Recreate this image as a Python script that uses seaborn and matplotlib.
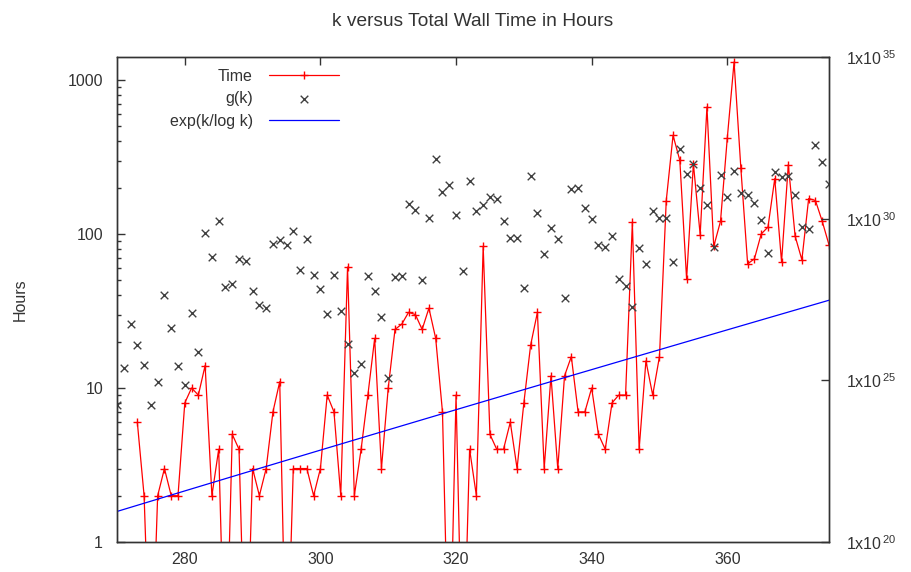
import numpy as np
import pandas as pd
import matplotlib
matplotlib.use("Agg")
import matplotlib.pyplot as plt
import seaborn as sns
from matplotlib.ticker import FixedLocator, LogLocator, NullFormatter, NullLocator

# k values (x axis)
k_values = list(range(270, 376))

# wall time in hours, k = 273 .. 375 (points below 1 drop off the bottom of the axis)
time_k = list(range(273, 376))
time_hours = [
    6, 2, 0.1, 2, 3, 2, 2, 8, 10, 9,            # 273-282
    14, 2, 4, 0.1, 5, 4, 0.1, 3, 2, 3,          # 283-292
    7, 11, 0.1, 3, 3, 3, 2, 3, 9, 7,            # 293-302
    2, 61, 2, 4, 9, 21, 3, 10, 24, 26,          # 303-312
    31, 30, 24, 33, 21, 7, 0.1, 9, 0.1, 4,      # 313-322
    2, 83, 5, 4, 4, 6, 3, 8, 19, 31,            # 323-332
    3, 12, 3, 12, 16, 7, 7, 10, 5, 4,           # 333-342
    8, 9, 9, 119, 4, 15, 9, 16, 165, 437,       # 343-352
    301, 51, 286, 99, 668, 83, 121, 420, 1309, 268,  # 353-362
    64, 69, 100, 111, 229, 66, 282, 97, 68, 170,     # 363-372
    165, 121, 85,                                    # 373-375
]

# g(k), read as log10 values on the right axis, k = 270 .. 375
g_log10 = [
    24.23, 25.38, 26.75, 26.08, 25.46, 24.25, 24.95, 27.65, 26.62, 25.44,  # 270-279
    24.87, 27.08, 25.88, 29.57, 28.81, 29.92, 27.89, 27.97, 28.74, 28.69,  # 280-289
    27.75, 27.34, 27.24, 29.23, 29.33, 29.18, 29.62, 28.40, 29.38, 28.27,  # 290-299
    27.84, 27.06, 28.25, 27.13, 26.13, 25.24, 25.52, 28.23, 27.75, 26.96,  # 300-309
    25.07, 28.20, 28.23, 30.46, 30.28, 28.11, 30.02, 31.84, 30.82, 31.05,  # 310-319
    30.12, 28.38, 31.18, 30.23, 30.43, 30.67, 30.62, 29.92, 29.41, 29.41,  # 320-329
    27.87, 31.32, 30.19, 28.92, 29.72, 29.36, 27.55, 30.93, 30.95, 30.33,  # 330-339
    29.98, 29.18, 29.12, 29.46, 28.14, 27.91, 27.27, 29.09, 28.61, 30.23,  # 340-349
    30.03, 30.03, 28.66, 32.16, 31.39, 31.68, 30.95, 30.41, 29.12, 31.36,  # 350-359
    30.67, 31.46, 30.80, 30.72, 30.49, 29.95, 28.95, 31.44, 31.29, 31.31,  # 360-369
    30.74, 29.74, 29.69, 32.27, 31.75, 31.08,                              # 370-375
]

left_ticks = [1, 10, 100, 1000]
left_labels = ["1", "10", "100", "1000"]
right_ticks = [1e20, 1e25, 1e30, 1e35]
right_labels = [r"1x10$^{\,20}$", r"1x10$^{\,25}$", r"1x10$^{\,30}$", r"1x10$^{\,35}$"]
x_ticks = [280, 300, 320, 340, 360]

time_df = pd.DataFrame({"k": time_k, "hours": time_hours})
g_df = pd.DataFrame({"k": k_values, "g": 10.0 ** np.array(g_log10)})
k_arr = np.array(k_values, dtype=float)
exp_df = pd.DataFrame({"k": k_values, "bound": np.exp(k_arr / np.log(k_arr))})

sns.set_style("white")
plt.rcParams["font.family"] = ["Liberation Sans", "DejaVu Sans"]
plt.rcParams["mathtext.default"] = "regular"
plt.rcParams["font.size"] = 11.5
text_col = "#333333"

fig = plt.figure(figsize=(9.11, 5.72), dpi=100)
ax = fig.add_axes([0.1284, 0.0524, 0.910 - 0.1284, 0.9003 - 0.0524])
ax2 = ax.twinx()

sns.lineplot(data=time_df, x="k", y="hours", ax=ax, color="#ff0000", linewidth=0.9,
             marker="+", markersize=6, markeredgewidth=1.0, markeredgecolor="#ff0000",
             label="Time", legend=False)
sns.scatterplot(data=g_df, x="k", y="g", ax=ax2, color="#404040", marker="x", s=30,
                linewidth=1.0, label="g(k)", legend=False)
sns.lineplot(data=exp_df, x="k", y="bound", ax=ax2, color="#0000ff", linewidth=0.9,
             label="exp(k/log k)", legend=False)

ax.set_xlim(270, 375)
ax.set_yscale("log")
ax.set_ylim(1, 1410)
ax2.set_yscale("log")
ax2.set_ylim(1e20, 1e35)

ax.xaxis.set_major_locator(FixedLocator(x_ticks))
ax.xaxis.set_minor_locator(NullLocator())
ax.yaxis.set_major_locator(FixedLocator(left_ticks))
ax.set_yticklabels(left_labels)
ax.yaxis.set_minor_locator(LogLocator(base=10, subs=np.arange(2, 10)))
ax.yaxis.set_minor_formatter(NullFormatter())
ax2.yaxis.set_major_locator(FixedLocator(right_ticks))
ax2.set_yticklabels(right_labels)
ax2.yaxis.set_minor_locator(NullLocator())

ax.tick_params(axis="x", which="both", direction="in", top=True, length=6, width=1,
               color=text_col, labelcolor=text_col, pad=7)
ax.tick_params(axis="y", which="major", direction="in", right=False, length=6, width=1,
               color=text_col, labelcolor=text_col, pad=10)
ax.tick_params(axis="y", which="minor", direction="in", right=False, length=3, width=1,
               color=text_col)
ax2.tick_params(axis="y", which="major", direction="in", length=6, width=1,
                color=text_col, labelcolor=text_col, pad=12)

for a in (ax, ax2):
    for sp in a.spines.values():
        sp.set_color(text_col)
        sp.set_linewidth(1.0)

ax.set_xlabel("")
ax2.set_ylabel("")
ax.set_ylabel("Hours", color=text_col)
ax.yaxis.set_label_coords(-0.125, 0.5)
ax.set_title("k versus Total Wall Time in Hours", color=text_col, pad=22)

h1, l1 = ax.get_legend_handles_labels()
h2, l2 = ax2.get_legend_handles_labels()
leg = ax2.legend(h1 + h2, l1 + l2, loc="upper right", bbox_to_anchor=(0.312, 0.976),
                 frameon=False, markerfirst=False, handlelength=4.4, handletextpad=1.0,
                 labelspacing=0.48, borderpad=0, borderaxespad=0)
for t in leg.get_texts():
    t.set_color(text_col)

fig.savefig("out.png", dpi=100)
